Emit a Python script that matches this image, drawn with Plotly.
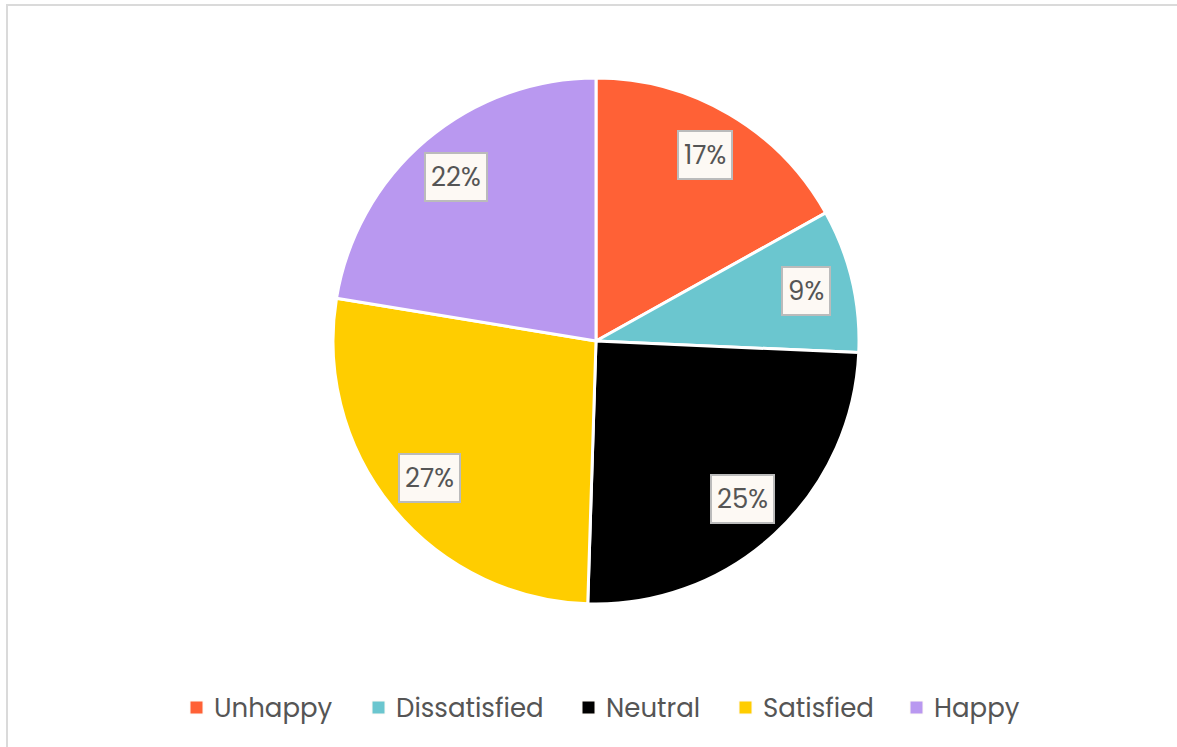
import math
import plotly.graph_objects as go

# Survey responses by mood (share of respondents, %)
labels = ["Unhappy", "Dissatisfied", "Neutral", "Satisfied", "Happy"]
values = [16.9, 8.8, 24.8, 27.1, 22.4]
colors = ["#FF6136", "#6BC6CF", "#000000", "#FFCD00", "#B998F0"]

# Legend entry positions (left edge of each colour swatch, px)
legend_x = [190, 372, 582, 739, 910]

W, H = 1177, 747
cx, cy, R = 596, 341, 263          # pie centre / radius in pixels (from top-left)
label_r = 0.82                      # radial position of the boxed % labels
FONT = "Poppins, Lato, sans-serif"
TEXT_COLOR = "#555555"


def fx(px):
    return px / W


def fy(py):
    return 1 - py / H


fig = go.Figure(go.Pie(
    labels=labels,
    values=values,
    sort=False,
    direction="clockwise",
    rotation=0,
    marker=dict(colors=colors, line=dict(color="#FFFFFF", width=3)),
    textinfo="none",
    hoverinfo="label+percent",
    domain=dict(x=[fx(cx - 300), fx(cx + 300)], y=[fy(cy + R), fy(cy - R)]),
    showlegend=False,
))

# Boxed percentage labels at each slice's mid-angle
total = sum(values)
acc = 0
for v in values:
    mid = (acc + v / 2) / total * 2 * math.pi
    acc += v
    px = cx + label_r * R * math.sin(mid)
    py = cy - label_r * R * math.cos(mid)
    fig.add_annotation(
        x=fx(px), y=fy(py), xref="paper", yref="paper",
        xanchor="center", yanchor="middle",
        text=f"{round(v / total * 100)}%", showarrow=False,
        font=dict(family=FONT, size=26, color=TEXT_COLOR),
        bgcolor="#FDF9F4", bordercolor="#BBBBBB", borderwidth=2, borderpad=5,
    )

# Legend row: colour swatch + label
LEG_Y = 707.5
SW = 13
for name, col, lx in zip(labels, colors, legend_x):
    fig.add_shape(type="rect", xref="paper", yref="paper",
                  x0=fx(lx), x1=fx(lx + SW), y0=fy(LEG_Y + SW / 2), y1=fy(LEG_Y - SW / 2),
                  fillcolor=col, line=dict(color="#FDF9F4", width=1))
    fig.add_annotation(
        x=fx(lx + SW + 9), y=fy(LEG_Y), xref="paper", yref="paper",
        xanchor="left", yanchor="middle", showarrow=False,
        text=name, font=dict(family=FONT, size=26, color=TEXT_COLOR),
    )

# Light frame along the top and left edges
fig.add_shape(type="line", xref="paper", yref="paper",
              x0=fx(6), x1=1, y0=fy(5), y1=fy(5),
              line=dict(color="#DADADA", width=2))
fig.add_shape(type="line", xref="paper", yref="paper",
              x0=fx(7), x1=fx(7), y0=0, y1=fy(5),
              line=dict(color="#DADADA", width=2))

fig.update_layout(
    width=W, height=H,
    margin=dict(l=0, r=0, t=0, b=0),
    paper_bgcolor="#FFFFFF",
    plot_bgcolor="#FFFFFF",
    showlegend=False,
)

fig.write_html("out.html")
